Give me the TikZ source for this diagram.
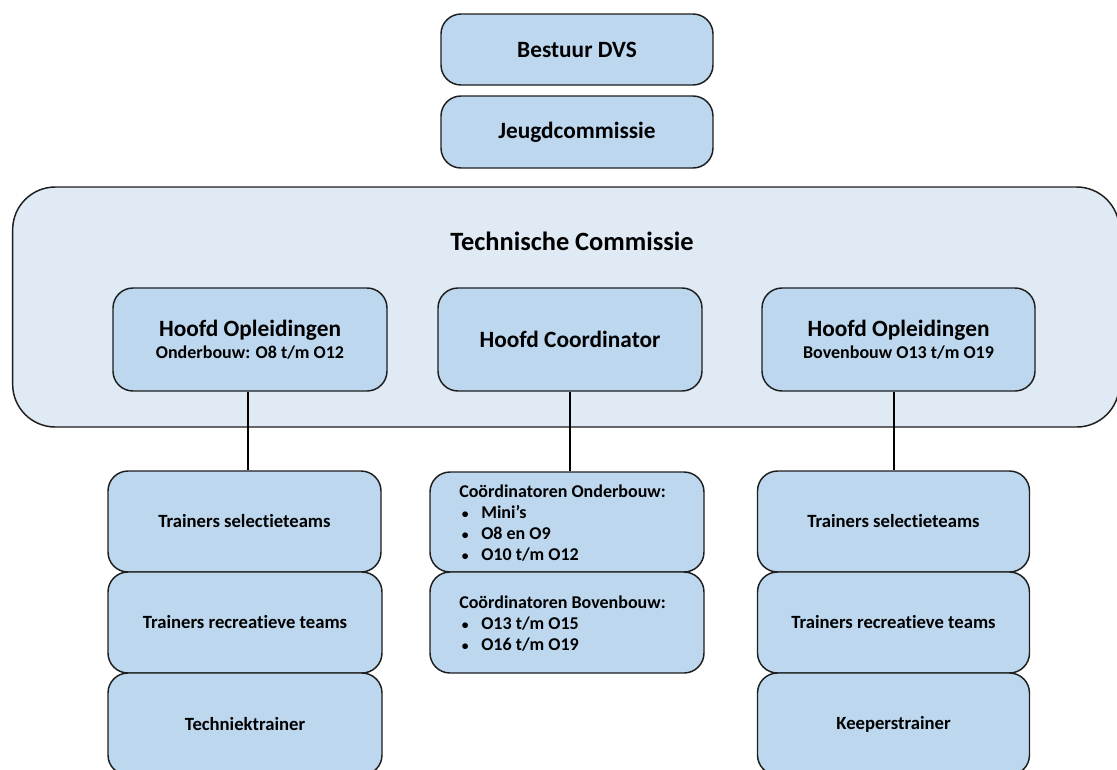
\documentclass[tikz,border=0pt]{standalone}
\usepackage{fontspec}
\setmainfont{Carlito}[Ligatures=NoCommon]
\definecolor{boxfill}{HTML}{BDD7EE}
\definecolor{bigfill}{HTML}{DFEAF5}
\definecolor{edge}{HTML}{1E1E1E}
\tikzset{
  base/.style={draw=edge, line width=1.1pt, rounded corners=15pt, fill=boxfill, inner sep=0pt, font=\bfseries},
  bigbox/.style={draw=edge, line width=1.1pt, rounded corners=32pt, fill=bigfill, inner sep=0pt},
  listtext/.style={inner sep=0pt, anchor=west, align=left, font=\bfseries\fontsize{13.5}{15.75}\selectfont},
  small/.style={font=\bfseries\fontsize{14}{17}\selectfont},
  link/.style={draw=black, line width=1pt},
}
\newcommand{\bx}[1]{\makebox[16.5pt][l]{\kern2pt\scalebox{0.75}{•}}#1}
\begin{document}
\begin{tikzpicture}[x=0.75pt,y=-0.75pt]
\useasboundingbox (0,0) rectangle (1117,769);
% top boxes
\node[base, minimum width=204pt, minimum height=53.25pt, font=\bfseries\fontsize{17.5}{21}\selectfont] (bestuur) at (577,49.5) {Bestuur DVS};
\node[base, minimum width=204pt, minimum height=54pt, font=\bfseries\fontsize{17.5}{21}\selectfont] (jeugd) at (577,132) {Jeugdcommissie};
% big box
\node[bigbox, minimum width=830pt, minimum height=180pt] (tc) at (566,307) {};
\node[font=\bfseries\fontsize{19.8}{23}\selectfont] (tctitle) at (572,241) {Technische Commissie};
% hoofd boxes
\node[base, minimum width=205.5pt, minimum height=77.25pt, align=center] (hol) at (250,339.5)
  {{\fontsize{17.5}{21}\selectfont Hoofd Opleidingen}\\[3pt]{\fontsize{13.5}{16}\selectfont Onderbouw: O8 t/m O12}};
\node[base, minimum width=198pt, minimum height=77.25pt, font=\bfseries\fontsize{17.5}{21}\selectfont] (hc) at (570,339.5) {Hoofd Coordinator};
\node[base, minimum width=204.75pt, minimum height=77.25pt, align=center] (hor) at (898.5,339.5)
  {{\fontsize{17.5}{21}\selectfont Hoofd Opleidingen}\\[3pt]{\fontsize{13.5}{16}\selectfont Bovenbouw O13 t/m O19}};
% left column
\node[base, small, minimum width=204.75pt, minimum height=75.75pt] (l1) at (244.5,521.5) {Trainers selectieteams};
\node[base, small, minimum width=205.5pt, minimum height=75.75pt] (l2) at (245,622.5) {Trainers recreatieve teams};
\node[base, small, minimum width=205.5pt, minimum height=76.5pt] (l3) at (245,724) {Techniektrainer};
% middle column
\node[base, minimum width=205.5pt, minimum height=75pt] (m1) at (567,522) {};
\node[listtext] (m1text) at (459,523)
  {Coördinatoren Onderbouw:\\ \bx{Mini’s}\\ \bx{O8 en O9}\\ \bx{O10 t/m O12}};
\node[base, minimum width=205.5pt, minimum height=75.75pt] (m2) at (567,622.5) {};
\node[listtext] (m2text) at (459,624)
  {Coördinatoren Bovenbouw:\\ \bx{O13 t/m O15}\\ \bx{O16 t/m O19}};
% right column
\node[base, small, minimum width=204pt, minimum height=75.75pt] (r1) at (893.5,521.5) {Trainers selectieteams};
\node[base, small, minimum width=204pt, minimum height=75.75pt] (r2) at (893.5,622.5) {Trainers recreatieve teams};
\node[base, small, minimum width=204pt, minimum height=76.5pt] (r3) at (893.5,724) {Keeperstrainer};
% connectors
\draw[link] ([xshift=-1.5pt]hol.south) -- ([xshift=-1.5pt]hol.south |- l1.north);
\draw[link] (hc.south) -- (hc.south |- m1.north);
\draw[link] ([xshift=-3.4pt]hor.south) -- ([xshift=-3.4pt]hor.south |- r1.north);
\end{tikzpicture}
\end{document}
